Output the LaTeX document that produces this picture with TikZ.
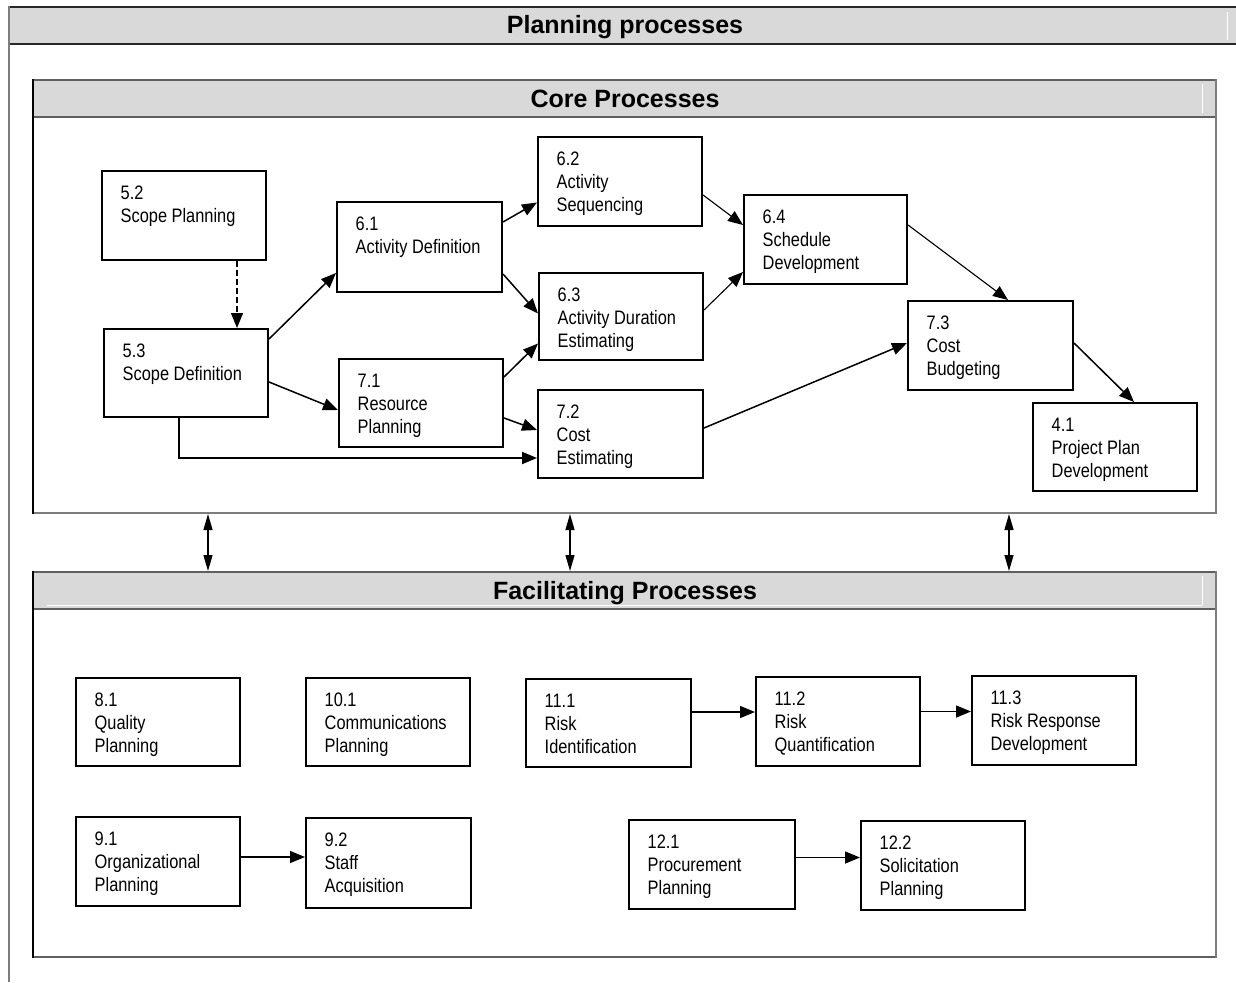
\documentclass[tikz,border=0pt]{standalone}
\usepackage{fontspec}
\setmainfont{Liberation Sans}
\newfontfamily\narrowfont{Liberation Sans}[FakeStretch=0.84]
\usetikzlibrary{arrows.meta,calc}
\definecolor{hdrfill}{RGB}{217,217,217}
\definecolor{framegray}{RGB}{125,125,125}
\definecolor{darkline}{RGB}{40,40,40}
\definecolor{midline}{RGB}{95,95,95}
\newcommand{\procbox}[6]{%
  \node[proc, minimum width={(#4-#2)*1pt}, minimum height={(#5-#3)*1pt}] (#1) at ({(#2+#4)/2},{(#3+#5)/2}) {};
  \node[ptext] (#1t) at ([xshift=19.5pt,yshift=-16pt]#1.north west) {#6};
}
\begin{document}
\begin{tikzpicture}[x=1pt,y=-1pt,
  proc/.style={draw=black, line width=2pt, rectangle, inner sep=0pt},
  ptext/.style={anchor=north west, align=left, inner sep=0pt, font=\narrowfont\fontsize{19.5}{23}\selectfont},
  hdrtext/.style={inner sep=0pt, anchor=base, font=\bfseries\fontsize{25}{29}\selectfont},
  flow/.style={line width=1.5pt, -{Triangle[length=15pt,width=12pt]}},
  thinflow/.style={line width=1.1pt, -{Triangle[length=15pt,width=12pt]}},
  dashflow/.style={line width=1.4pt, dashed, dash pattern=on 6pt off 3pt, -{Triangle[length=15pt,width=12pt]}},
  dbl/.style={line width=1.3pt, {Triangle[length=16pt,width=9pt]}-{Triangle[length=16pt,width=9pt]}},
  bevel/.style={white, line width=1pt}
]
\useasboundingbox (0,0) rectangle (1236,982);

% ---- outer frame and title bar
\fill[hdrfill] (9,7) rectangle (1236,44);
\draw[bevel] (1227,12) -- (1227,40);
\draw[darkline, line width=2pt] (9,7) -- (1236,7);
\draw[darkline, line width=2pt] (9,44) -- (1236,44);
\draw[framegray, line width=2.5pt] (9,6) -- (9,982);
\node[hdrtext] (title) at (625,34) {Planning processes};

% ---- core processes frame
\fill[hdrfill] (33,80) rectangle (1216,117);
\draw[bevel] (1202,84) -- (1202,113);
\draw[midline, line width=2pt] (33,80) -- (1216,80);
\draw[midline, line width=2pt] (33,117) -- (1216,117);
\draw[framegray, line width=2pt] (33,513) -- (1216,513);
\draw[framegray, line width=2pt] (1216,79) -- (1216,514);
\draw[black, line width=1.5pt] (33,79) -- (33,514);
\node[hdrtext] (corehdr) at (625,107) {Core Processes};

% ---- facilitating processes frame
\fill[hdrfill] (33,572) rectangle (1216,609);
\draw[bevel] (47,605) -- (1202,605);
\draw[bevel] (1202,576) -- (1202,605);
\draw[midline, line width=2pt] (33,572) -- (1216,572);
\draw[midline, line width=2pt] (33,609) -- (1216,609);
\draw[midline, line width=2pt] (33,957) -- (1216,957);
\draw[framegray, line width=2pt] (1216,571) -- (1216,958);
\draw[black, line width=1.5pt] (33,571) -- (33,958);
\node[hdrtext] (fachdr) at (625,599) {Facilitating Processes};

% ---- connectors between the frames
\coordinate (cs1) at (208,514);
\coordinate (cs2) at (570,514);
\coordinate (cs3) at (1009,514);
\coordinate (fn1) at (208,571);
\coordinate (fn2) at (570,571);
\coordinate (fn3) at (1009,571);
\draw[dbl] (cs1) -- (fn1);
\draw[dbl] (cs2) -- (fn2);
\draw[dbl] (cs3) -- (fn3);

% ---- core process boxes
\procbox{n52}{102}{171}{266}{260}{5.2\\Scope Planning}
\procbox{n53}{104}{329}{268}{417}{5.3\\Scope Definition}
\procbox{n61}{337}{202}{502}{292}{6.1\\Activity Definition}
\procbox{n71}{339}{359}{503}{447}{7.1\\Resource\\Planning}
\procbox{n62}{538}{137}{702}{226}{6.2\\Activity\\Sequencing}
\procbox{n63}{539}{273}{703}{360}{6.3\\Activity Duration\\Estimating}
\procbox{n72}{538}{390}{703}{478}{7.2\\Cost\\Estimating}
\procbox{n64}{744}{195}{907}{284}{6.4\\Schedule\\Development}
\procbox{n73}{908}{301}{1073}{390}{7.3\\Cost\\Budgeting}
\procbox{n41}{1033}{403}{1197}{491}{4.1\\Project Plan\\Development}

% ---- core connectors
\draw[dashflow] ([xshift=53pt]n52.south) -- ([xshift=51pt]n53.north);
\draw[flow] ([yshift=-11pt]n53.north east) -- ([yshift=20pt]n61.south west);
\draw[flow] ([yshift=-9pt]n53.east) -- ([yshift=-7pt]n71.west);
\draw[line width=1.9pt, -{Triangle[length=15pt,width=12pt]}] ([xshift=-7pt]n53.south) |- ([yshift=-24pt]n72.west);
\draw[flow] ([yshift=-21pt]n61.north east) -- ([yshift=-21pt]n62.west);
\draw[flow] ([yshift=19pt]n61.south east) -- ([yshift=3pt]n63.west);
\draw[flow] ([yshift=-19pt]n71.north east) -- ([yshift=-27pt]n63.west);
\draw[flow] ([yshift=-15pt]n71.east) -- ([yshift=4pt]n72.west);
\draw[thinflow] ([yshift=-13.5pt]n62.east) -- ([yshift=14.5pt]n64.west);
\draw[thinflow] ([yshift=6.5pt]n63.east) -- ([yshift=-32.5pt]n64.west);
\draw[thinflow] ([yshift=14.5pt]n64.east) -- ([xshift=17.5pt]n73.north);
\draw[flow] ([yshift=6pt]n72.east) -- ([yshift=2.5pt]n73.west);
\draw[flow] ([yshift=2.5pt]n73.east) -- ([xshift=19pt]n41.north);

% ---- facilitating process boxes
\procbox{n81}{76}{678}{240}{766}{8.1\\Quality\\Planning}
\procbox{n101}{306}{678}{470}{766}{10.1\\Communications\\Planning}
\procbox{n111}{526}{679}{691}{767}{11.1\\Risk\\Identification}
\procbox{n112}{756}{677}{920}{766}{11.2\\Risk\\Quantification}
\procbox{n113}{972}{676}{1136}{765}{11.3\\Risk Response\\Development}
\procbox{n91}{76}{817}{240}{906}{9.1\\Organizational\\Planning}
\procbox{n92}{306}{818}{471}{908}{9.2\\Staff\\Acquisition}
\procbox{n121}{629}{820}{795}{909}{12.1\\Procurement\\Planning}
\procbox{n122}{861}{821}{1025}{910}{12.2\\Solicitation\\Planning}

% ---- facilitating connectors
\draw[flow] ([yshift=11pt]n111.east) -- ([yshift=11pt]n111.east -| n112.west);
\draw[flow] ([yshift=10pt]n112.east) -- ([yshift=10pt]n112.east -| n113.west);
\draw[flow] ([yshift=4.5pt]n91.east) -- ([yshift=4.5pt]n91.east -| n92.west);
\draw[flow] ([yshift=7pt]n121.east) -- ([yshift=7pt]n121.east -| n122.west);
\end{tikzpicture}
\end{document}
